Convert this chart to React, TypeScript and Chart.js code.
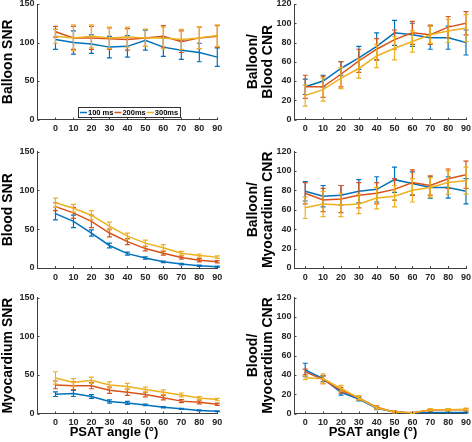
import React, { useEffect, useRef } from "react";
import { Chart, registerables } from "chart.js";
Chart.register(...registerables);

// ---------- data ----------
const angles = [0, 10, 20, 30, 40, 50, 60, 70, 80, 90];
const seriesLabels = ["100 ms", "200ms", "300ms"];
const seriesColors = ["#0072BD", "#D95319", "#EDB120"];
const snrTicks = [0, 50, 100, 150];
const cnrTicks = [0, 20, 40, 60, 80, 100, 120];
const xTitle = "PSAT angle (°)";

// Balloon SNR
const balloonSNR100 = [104, 100, 98, 94, 95, 103, 94, 90, 87, 81];
const balloonSNR100Err = [13, 15, 12, 14, 14, 13, 12, 12, 12, 12];
const balloonSNR200 = [114, 106, 106, 105, 104, 106, 108, 101, 106, 108];
const balloonSNR200Err = [7, 15, 15, 14, 14, 11, 14, 14, 14, 14];
const balloonSNR300 = [108, 106, 108, 106, 107, 106, 106, 104, 106, 109];
const balloonSNR300Err = [9, 17, 15, 14, 13, 11, 14, 13, 14, 14];

// Balloon/Blood CNR
const balloonBlood100 = [34, 40, 53, 64, 76, 90, 88, 85, 85, 80];
const balloonBlood100Err = [8, 6, 7, 12, 14, 13, 12, 12, 12, 13];
const balloonBlood200 = [34, 34, 47, 61, 73, 83, 90, 88, 96, 100];
const balloonBlood200Err = [12, 11, 13, 12, 11, 10, 12, 10, 11, 12];
const balloonBlood300 = [25, 31, 43, 53, 66, 74, 81, 88, 92, 95];
const balloonBlood300Err = [11, 12, 11, 10, 12, 12, 11, 9, 12, 14];

// Blood SNR
const bloodSNR100 = [70, 60, 45, 29, 18.5, 13, 8, 5, 3, 1.5];
const bloodSNR100Err = [8, 8, 4, 3, 2, 1.5, 1, 1, 0.8, 0.8];
const bloodSNR200 = [79, 71, 60, 45, 34, 25, 19, 13.5, 10, 8];
const bloodSNR200Err = [5, 7, 8, 5, 4, 3, 2.5, 2, 2, 1.5];
const bloodSNR300 = [84, 77, 68, 54, 41, 32, 26, 19, 16, 14];
const bloodSNR300Err = [6, 5, 6, 5, 4, 4, 4, 2.5, 2, 1.5];

// Balloon/Myocardium CNR
const balloonMyo100 = [79, 74, 75, 79, 81, 91, 87, 83, 83, 79];
const balloonMyo100Err = [10, 11, 10, 12, 13, 13, 12, 11, 11, 13];
const balloonMyo200 = [77, 70, 71, 75, 77, 81, 88, 85, 92, 96];
const balloonMyo200Err = [11, 12, 14, 13, 11, 11, 13, 10, 10, 14];
const balloonMyo300 = [62, 66, 65, 66, 72, 74, 80, 83, 88, 90];
const balloonMyo300Err = [11, 13, 12, 10, 11, 11, 12, 10, 12, 14];

// Myocardium SNR
const myoSNR100 = [25, 26, 22, 15.5, 13.7, 11, 8, 6, 4, 3];
const myoSNR100Err = [3, 4, 2.5, 2, 2, 1, 0.8, 0.8, 0.6, 0.5];
const myoSNR200 = [37, 36, 36, 30, 27.5, 24.5, 20.5, 16, 14.5, 12];
const myoSNR200Err = [5, 5, 4, 4, 4, 3, 3, 2, 2, 1.5];
const myoSNR300 = [46, 40, 43, 37, 35, 31, 27.5, 24, 20, 18];
const myoSNR300Err = [8, 5, 4, 4, 4, 3, 3, 2.5, 2, 1.5];

// Blood/Myocardium CNR
const bloodMyo100 = [45, 36, 22, 15, 5.5, 1.5, 0.5, 1, 1, 1];
const bloodMyo100Err = [7, 3, 3, 2, 1.5, 1, 0.5, 0.5, 0.5, 0.5];
const bloodMyo200 = [43, 35, 24, 16, 6.5, 1.5, 0.7, 3.5, 4, 4];
const bloodMyo200Err = [3, 4, 3, 2, 1.5, 1, 0.5, 1, 1, 1];
const bloodMyo300 = [37, 36, 26, 16, 6, 1.5, 0.5, 4, 4, 4.5];
const bloodMyo300Err = [2, 5, 3, 2, 1.5, 1, 0.5, 1, 1, 1];

// ---------- layout ----------
const FONT = "'Liberation Sans', Arial, Helvetica, sans-serif";
const AXIS_COLOR = "#404040";
const TEXT_COLOR = "#262626";

const COLS = [
  { x0: 0, w: 236, left: 37.5, right: 217.3, xMin: -10, titlePad: 0, xTitleCenter: 114 },
  { x0: 236, w: 236, left: 294.5, right: 466, xMin: -6, titlePad: 9, xTitleCenter: 373 },
];
const ROWS = [
  { y0: 0, h: 145, top: 4, bottom: 119.5 },
  { y0: 145, h: 145, top: 151.5, bottom: 268 },
  { y0: 290, h: 152, top: 297.5, bottom: 413.5 },
];

const panels = [
  { col: 0, row: 0, title: ["Balloon SNR"], yMax: 150, yTicks: snrTicks, legend: true,
    series: [[balloonSNR100, balloonSNR100Err], [balloonSNR200, balloonSNR200Err], [balloonSNR300, balloonSNR300Err]] },
  { col: 1, row: 0, title: ["Balloon/", "Blood CNR"], yMax: 120, yTicks: cnrTicks,
    series: [[balloonBlood100, balloonBlood100Err], [balloonBlood200, balloonBlood200Err], [balloonBlood300, balloonBlood300Err]] },
  { col: 0, row: 1, title: ["Blood SNR"], yMax: 150, yTicks: snrTicks,
    series: [[bloodSNR100, bloodSNR100Err], [bloodSNR200, bloodSNR200Err], [bloodSNR300, bloodSNR300Err]] },
  { col: 1, row: 1, title: ["Balloon/", "Myocardium CNR"], yMax: 120, yTicks: cnrTicks,
    series: [[balloonMyo100, balloonMyo100Err], [balloonMyo200, balloonMyo200Err], [balloonMyo300, balloonMyo300Err]] },
  { col: 0, row: 2, title: ["Myocardium SNR"], yMax: 150, yTicks: snrTicks, xTitle: true,
    series: [[myoSNR100, myoSNR100Err], [myoSNR200, myoSNR200Err], [myoSNR300, myoSNR300Err]] },
  { col: 1, row: 2, title: ["Blood/", "Myocardium CNR"], yMax: 120, yTicks: cnrTicks, xTitle: true,
    series: [[bloodMyo100, bloodMyo100Err], [bloodMyo200, bloodMyo200Err], [bloodMyo300, bloodMyo300Err]] },
];

// ---------- plugins ----------
const errorBarPlugin = {
  id: "errorBars",
  afterDatasetDraw(chart: any, args: any) {
    const ds = chart.data.datasets[args.index];
    const errs = ds.errors;
    if (!errs) return;
    const ys = chart.scales.y;
    const ctx = chart.ctx;
    const cap = 2.5;
    ctx.save();
    ctx.strokeStyle = ds.borderColor;
    ctx.lineWidth = 1.2;
    args.meta.data.forEach((pt: any, i: number) => {
      const v = ds.data[i].y;
      const e = errs[i];
      const x = pt.x;
      const top = ys.getPixelForValue(v + e);
      const bot = ys.getPixelForValue(v - e);
      ctx.beginPath();
      ctx.moveTo(x, top);
      ctx.lineTo(x, bot);
      ctx.moveTo(x - cap, top);
      ctx.lineTo(x + cap, top);
      ctx.moveTo(x - cap, bot);
      ctx.lineTo(x + cap, bot);
      ctx.stroke();
    });
    ctx.restore();
  },
};

const innerTickPlugin = {
  id: "innerTicks",
  afterDraw(chart: any) {
    const { ctx, chartArea: ca } = chart;
    const xs = chart.scales.x;
    const ys = chart.scales.y;
    ctx.save();
    ctx.strokeStyle = AXIS_COLOR;
    ctx.lineWidth = 1;
    ctx.beginPath();
    xs.ticks.forEach((t: any) => {
      const px = Math.round(xs.getPixelForValue(t.value)) + 0.5;
      ctx.moveTo(px, ca.bottom);
      ctx.lineTo(px, ca.bottom - 2);
    });
    ys.ticks.forEach((t: any) => {
      const py = Math.round(ys.getPixelForValue(t.value)) + 0.5;
      ctx.moveTo(ca.left, py);
      ctx.lineTo(ca.left + 2, py);
    });
    ctx.stroke();
    ctx.restore();
  },
};

const legendPlugin = {
  id: "boxLegend",
  afterDraw(chart: any, _args: any, opts: any) {
    if (!opts || !opts.show) return;
    const ctx = chart.ctx;
    const x0 = opts.x;
    const y0 = opts.y;
    const h = 10;
    const lineLen = 7;
    ctx.save();
    ctx.font = `bold 7.5px ${FONT}`;
    let w = 2;
    const items = chart.data.datasets.map((ds: any) => {
      const tw = ctx.measureText(ds.label).width;
      const it = { x: x0 + w, tw, label: ds.label, color: ds.borderColor };
      w += lineLen + 1 + tw + 1;
      return it;
    });
    w += 1;
    ctx.fillStyle = "#fff";
    ctx.fillRect(x0, y0, w, h);
    ctx.strokeStyle = "#333";
    ctx.lineWidth = 1;
    ctx.strokeRect(Math.round(x0) + 0.5, Math.round(y0) + 0.5, Math.round(w), h);
    items.forEach((it: any) => {
      ctx.strokeStyle = it.color;
      ctx.lineWidth = 1.5;
      ctx.beginPath();
      ctx.moveTo(it.x, y0 + h / 2 + 0.5);
      ctx.lineTo(it.x + lineLen, y0 + h / 2 + 0.5);
      ctx.stroke();
      ctx.fillStyle = "#000";
      ctx.textBaseline = "middle";
      ctx.textAlign = "left";
      ctx.fillText(it.label, it.x + lineLen + 1, y0 + h / 2 + 1);
    });
    ctx.restore();
  },
};

const xTitlePlugin = {
  id: "xTitleText",
  afterDraw(chart: any, _args: any, opts: any) {
    if (!opts || !opts.text) return;
    const { ctx } = chart;
    ctx.save();
    ctx.font = `bold 13px ${FONT}`;
    ctx.fillStyle = "#000";
    ctx.textAlign = "center";
    ctx.textBaseline = "middle";
    ctx.fillText(opts.text, opts.x, opts.y);
    ctx.restore();
  },
};

// ---------- components ----------
function Panel({ cfg }: { cfg: any }) {
  const ref = useRef<HTMLCanvasElement>(null);
  const col = COLS[cfg.col];
  const row = ROWS[cfg.row];
  useEffect(() => {
    if (!ref.current) return;
    const yAxisW = col.left - col.x0;
    const padRight = col.x0 + col.w - col.right;
    const padTop = row.top - row.y0;
    const xAxisH = row.y0 + row.h - row.bottom;
    const datasets = cfg.series.map((s: any, i: number) => ({
      label: seriesLabels[i],
      data: angles.map((a, j) => ({ x: a, y: s[0][j] })),
      errors: s[1],
      borderColor: seriesColors[i],
      backgroundColor: seriesColors[i],
      borderWidth: 1.5,
      pointRadius: 0,
      tension: 0,
      fill: false,
      order: 2 - i,
    }));
    const tickFont = { family: FONT, size: 9, weight: "bold" as const };
    const chart = new Chart(ref.current, {
      type: "line",
      data: { datasets },
      options: {
        animation: false,
        responsive: false,
        devicePixelRatio: 1,
        layout: { padding: { top: padTop, right: padRight, left: 0, bottom: 0 }, autoPadding: false } as any,
        plugins: {
          legend: { display: false },
          tooltip: { enabled: false },
          boxLegend: { show: !!cfg.legend, x: 78, y: 107 },
          xTitleText: { text: cfg.xTitle ? xTitle : "", x: col.xTitleCenter - col.x0, y: 142 },
        } as any,
        scales: {
          x: {
            type: "linear",
            min: col.xMin,
            max: 90,
            afterBuildTicks: (s: any) => {
              s.ticks = angles.map((v) => ({ value: v }));
            },
            afterFit: (s: any) => {
              s.height = xAxisH;
              s.paddingLeft = 0;
              s.paddingRight = 0;
            },
            grid: { display: false, drawTicks: false },
            border: { display: true, color: AXIS_COLOR, width: 1 },
            ticks: { font: tickFont, color: TEXT_COLOR, padding: 4, maxRotation: 0, autoSkip: false },
          },
          y: {
            type: "linear",
            min: 0,
            max: cfg.yMax,
            afterBuildTicks: (s: any) => {
              s.ticks = cfg.yTicks.map((v: number) => ({ value: v }));
            },
            afterFit: (s: any) => {
              s.width = yAxisW;
              s.paddingTop = 0;
              s.paddingBottom = 0;
            },
            grid: { display: false, drawTicks: false },
            border: { display: true, color: AXIS_COLOR, width: 1 },
            ticks: { font: tickFont, color: TEXT_COLOR, padding: 3, autoSkip: false },
            title: {
              display: true,
              text: cfg.title,
              color: "#000",
              font: { family: FONT, size: 14, weight: "bold", lineHeight: 1.1 },
              padding: { top: col.titlePad, bottom: 0 },
            },
          },
        },
      } as any,
      plugins: [errorBarPlugin, innerTickPlugin, legendPlugin, xTitlePlugin] as any,
    });
    return () => chart.destroy();
  }, []);
  return (
    <canvas
      ref={ref}
      width={col.w}
      height={row.h}
      style={{ position: "absolute", left: col.x0, top: row.y0, width: col.w, height: row.h }}
    />
  );
}

export default function App() {
  return (
    <div style={{ position: "fixed", left: 0, top: 0, width: 472, height: 442, background: "#fff", overflow: "hidden" }}>
      {panels.map((p, i) => (
        <Panel key={i} cfg={p} />
      ))}
    </div>
  );
}
